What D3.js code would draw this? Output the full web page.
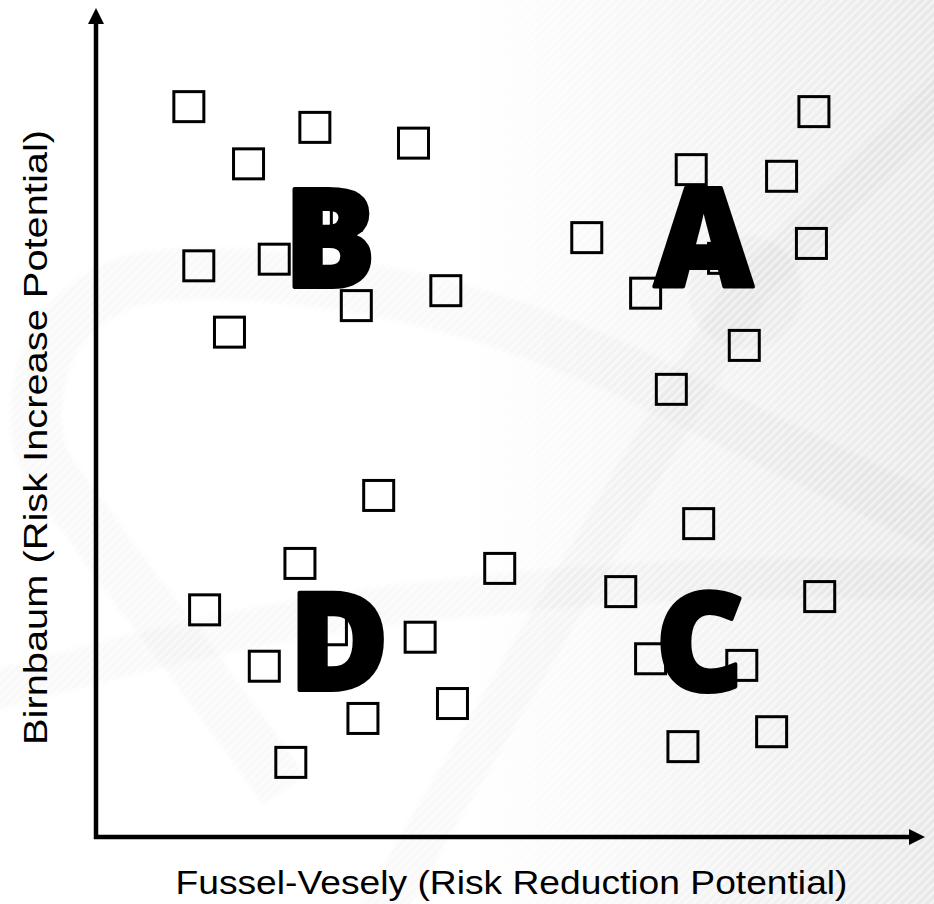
<!DOCTYPE html>
<html><head><meta charset="utf-8">
<script src="https://cdn.jsdelivr.net/npm/d3@7"></script>
<style>html,body{margin:0;padding:0;background:#fff;overflow:hidden;} svg{display:block;}</style>
</head><body>
<script>
// ---- data ----
const quadrantLabels = ["A", "B", "C", "D"];
const labelX = [73.3, 28.2, 72.8, 29.3];
const labelY = [66.5, 66.3, 17.6, 17.7];

const groupA_x = [86.6, 71.8, 82.7, 59.2, 86.3, 75.7, 66.3, 78.2, 69.4];
const groupA_y = [87.5, 80.5, 79.7, 72.3, 71.6, 69.8, 65.6, 59.3, 54.0];

const groupB_x = [11.2, 26.4, 38.3, 18.4, 30.2, 12.4, 21.5, 31.4, 42.2, 16.1];
const groupB_y = [88.1, 85.6, 83.7, 81.2, 75.0, 68.9, 69.7, 64.1, 65.9, 60.9];

const groupC_x = [72.7, 63.3, 87.3, 66.9, 77.9, 81.5, 70.8];
const groupC_y = [37.8, 29.6, 29.0, 21.5, 20.7, 12.7, 10.9];

const groupD_x = [34.1, 24.6, 13.1, 28.4, 39.1, 20.3, 43.0, 32.2, 23.5, 48.7];
const groupD_y = [41.2, 33.0, 27.4, 25.0, 24.1, 20.6, 16.1, 14.3, 9.0, 32.4];

const xTitle = "Fussel-Vesely (Risk Reduction Potential)";
const yTitle = "Birnbaum (Risk Increase Potential)";

// ---- layout ----
const W = 934, H = 904;
const x = d3.scaleLinear().domain([0, 100]).range([96, 925]);
const y = d3.scaleLinear().domain([0, 100]).range([837, 8]);
const arrowLen = 16;
const sq = 30;

const svg = d3.select("body").append("svg").attr("width", W).attr("height", H);
const defs = svg.append("defs");

// background gradient
const lg = defs.append("linearGradient").attr("id", "bg").attr("x1", "0").attr("x2", "1").attr("y1", "0").attr("y2", "0");
lg.append("stop").attr("offset", "0.5").attr("stop-color", "#ffffff");
lg.append("stop").attr("offset", "0.8").attr("stop-color", "#f2f2f2");
lg.append("stop").attr("offset", "1").attr("stop-color", "#e8e8e8");

const pat = defs.append("pattern").attr("id", "stripes").attr("patternUnits", "userSpaceOnUse")
  .attr("width", 6).attr("height", 6).attr("patternTransform", "rotate(45)");
pat.append("rect").attr("x", 0).attr("y", 0).attr("width", 2.5).attr("height", 6).attr("fill", "#ffffff").attr("opacity", 0.5);

const blur = defs.append("filter").attr("id", "soft").attr("x", "-10%").attr("y", "-10%").attr("width", "120%").attr("height", "120%");
blur.append("feGaussianBlur").attr("stdDeviation", 2);

const mk = defs.append("marker").attr("id", "arrow").attr("markerUnits", "userSpaceOnUse")
  .attr("viewBox", "0 0 16 16").attr("markerWidth", 16).attr("markerHeight", 17)
  .attr("refX", 0).attr("refY", 8).attr("orient", "auto-start-reverse");
mk.append("path").attr("d", "M0,0L16,8L0,16Z").attr("fill", "#000");

svg.append("rect").attr("width", W).attr("height", H).attr("fill", "url(#bg)");

// decorative watermark swooshes
const deco = svg.append("g").attr("fill", "none").attr("stroke", "#000").attr("stroke-opacity", 0.022)
  .attr("stroke-linecap", "butt").attr("filter", "url(#soft)");
const curve = d3.line().curve(d3.curveCatmullRom.alpha(0.5));
deco.append("path").attr("stroke-width", 52)
  .attr("d", curve([[285, 790], [190, 660], [100, 540], [38, 440], [55, 340], [120, 285], [220, 274], [340, 285], [467, 312], [600, 360], [750, 432], [860, 485], [960, 535]]));
deco.append("path").attr("stroke-width", 40)
  .attr("d", curve([[-40, 700], [150, 650], [330, 614], [467, 597], [650, 582], [800, 578], [980, 580]]));
deco.append("path").attr("stroke-width", 44)
  .attr("d", "M745,292L370,930");
deco.append("path").attr("stroke-width", 40)
  .attr("d", "M745,292L960,80");
svg.append("circle").attr("cx", 745).attr("cy", 292).attr("r", 57).attr("fill", "#000").attr("fill-opacity", 0.025).attr("filter", "url(#soft)");

svg.append("rect").attr("width", W).attr("height", H).attr("fill", "url(#stripes)");

// axes
svg.append("path")
  .attr("d", `M${x(0)},${y(100) + arrowLen}V${y(0)}H${x(100) - arrowLen}`)
  .attr("fill", "none").attr("stroke", "#000").attr("stroke-width", 4.5)
  .attr("stroke-linejoin", "miter")
  .attr("marker-start", "url(#arrow)").attr("marker-end", "url(#arrow)");

// axis titles
svg.append("text")
  .attr("x", (x(0) + x(100)) / 2 + 1).attr("y", 894)
  .attr("text-anchor", "middle")
  .attr("font-family", "'Liberation Sans', Arial, sans-serif").attr("font-size", 33)
  .attr("textLength", 672).attr("lengthAdjust", "spacingAndGlyphs")
  .attr("fill", "#000").text(xTitle);

svg.append("text")
  .attr("transform", `translate(47,${(y(0) + y(100)) / 2 + 15}) rotate(-90)`)
  .attr("text-anchor", "middle")
  .attr("font-family", "'Liberation Sans', Arial, sans-serif").attr("font-size", 33)
  .attr("textLength", 615).attr("lengthAdjust", "spacingAndGlyphs")
  .attr("fill", "#000").text(yTitle);

// points
const groups = [[groupA_x, groupA_y], [groupB_x, groupB_y], [groupC_x, groupC_y], [groupD_x, groupD_y]];
const pts = svg.append("g");
groups.forEach(([gx, gy]) => {
  pts.selectAll(null).data(d3.zip(gx, gy)).enter().append("rect")
    .attr("x", d => x(d[0]) - sq / 2).attr("y", d => y(d[1]) - sq / 2)
    .attr("width", sq).attr("height", sq)
    .attr("fill", "none").attr("stroke", "#000").attr("stroke-width", 3);
});

// quadrant letters
svg.append("g").selectAll("text").data(quadrantLabels).enter().append("text")
  .attr("x", (d, i) => x(labelX[i])).attr("y", (d, i) => y(labelY[i]))
  .attr("text-anchor", "middle")
  .attr("font-family", "'Open Sans', 'Noto Sans', sans-serif").attr("font-weight", 800)
  .attr("font-size", 136)
  .attr("stroke", "#000").attr("stroke-width", 4).attr("stroke-linejoin", "round")
  .attr("fill", "#000").text(d => d);
</script>
</body></html>
